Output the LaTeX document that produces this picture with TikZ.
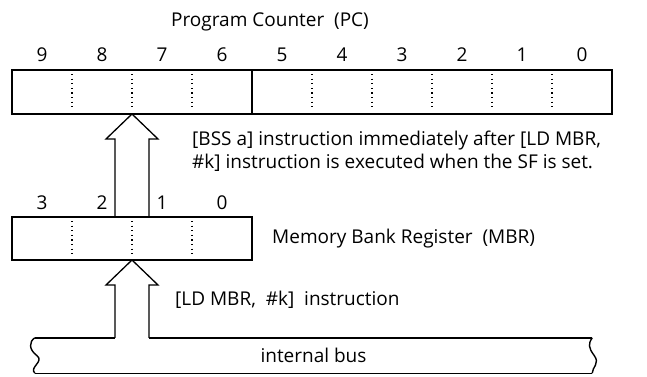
\documentclass[tikz,border=0pt]{standalone}
\usepackage{fontspec}
\setmainfont{Open Sans}
\usetikzlibrary{positioning,calc}

\newcommand{\blockarrow}[2]{%
  \draw[shaft] ($(#1)+(-17,0)$) |- ($(#2)+(-26,-25)$) -- (#2)
    -- ($(#2)+(26,-25)$) -| ($(#1)+(17,0)$);}

\begin{document}
\begin{tikzpicture}[
    x=1pt, y=1pt,
    reg/.style={rectangle, draw, line width=2.6pt, minimum height=44pt, inner sep=0pt, outer sep=0pt},
    lbl/.style={font=\fontsize{19}{23}\selectfont, inner sep=0pt},
    shaft/.style={line width=1.3pt, line join=miter},
    divider/.style={line width=1.1pt, dash pattern=on 1.1pt off 3.5pt, shorten >=4pt, shorten <=4pt},
    busline/.style={line width=1.4pt}
  ]
  \useasboundingbox (0,0) rectangle (647,376);
  \node[reg, minimum width=600pt] (pc) at (312,284) {};
  \node[reg, minimum width=240pt, minimum height=43pt] (mbr) at (132,137.5) {};
  \node[lbl, minimum width=557pt, minimum height=35pt] (bus) at (313.5,20.5) {internal bus};

  \foreach \c in {1,2,3,5,6,7,8,9}
    \draw[divider] ($(pc.north west)+(60*\c,0)$) -- ($(pc.south west)+(60*\c,0)$);
  \draw[line width=1.3pt] ($(pc.north west)+(240,0)$) -- ($(pc.south west)+(240,0)$);
  \foreach \c in {1,2,3}
    \draw[divider] ($(mbr.north west)+(60*\c,0)$) -- ($(mbr.south west)+(60*\c,0)$);

  \foreach \b in {0,...,9}
    \node[lbl] at ($(pc.north east)+(-30-60*\b,15)$) {\b};
  \foreach \b in {0,...,3}
    \node[lbl] at ($(mbr.north east)+(-30-60*\b,14)$) {\b};

  \node[lbl] (pctitle) at (270,354) {Program Counter\ \ (PC)};
  \node[lbl, right=20pt of mbr] (mbrname) {Memory Bank Register\ \ (MBR)};
  \node[lbl, align=left, anchor=west] (bssnote) at (192,224.5)
    {[BSS a] instruction immediately after [LD MBR,\\ \#k] instruction is executed when the SF is set.};
  \node[lbl, anchor=west] (ldnote) at (175,76) {[LD MBR,\ \ \#k]\ \ instruction};

  \coordinate (pcin) at ($(pc.south west)+(120,0)$);
  \coordinate (busout) at (bus.north -| mbr.south);
  \blockarrow{mbr.north}{pcin}
  \blockarrow{busout}{mbr.south}

  \draw[busline] (bus.north west) -- ($(busout)+(-17,0)$);
  \draw[busline] ($(busout)+(17,0)$) -- (bus.north east);
  \draw[busline] (bus.south west) -- (bus.south east);
  \draw[busline] (bus.north west) .. controls +(-6,-4) and +(-8,6) .. ($(bus.west)+(2,0)$)
    .. controls +(8,-6) and +(-6,6) .. (bus.south west);
  \draw[busline] (bus.north east) .. controls +(-4,-6) and +(-6,8) .. ($(bus.east)+(2,0)$)
    .. controls +(6,-8) and +(0,6) .. (bus.south east);
\end{tikzpicture}
\end{document}
